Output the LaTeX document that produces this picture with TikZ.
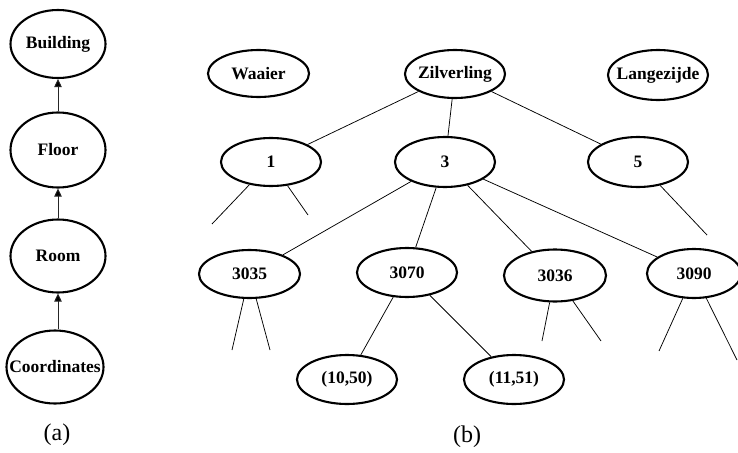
\documentclass[tikz,border=0pt]{standalone}
\usepackage{fontspec}
\setmainfont{Liberation Serif}
\usetikzlibrary{shapes.geometric,arrows.meta}

% label of zero width, so that the oval keeps its given size
\newcommand\ovl[1]{\makebox[0pt]{#1}}

\tikzset{
  oval/.style={ellipse, draw=black, line width=2.1pt, inner sep=0pt,
    font=\fontsize{17.5}{20}\selectfont\bfseries},
  edge/.style={draw=black, line width=0.75pt},
  uparrow/.style={draw=black!85, line width=0.9pt,
    -{Triangle[length=8pt,width=7.5pt,fill=black]}},
  caption/.style={font=\fontsize{24}{28}\selectfont}
}

\begin{document}
\begin{tikzpicture}[x=1pt, y=-1pt]
\useasboundingbox (0,0) rectangle (738,452);

% (a) hierarchy of levels
\node[oval, minimum width=95pt, minimum height=68pt] (B) at (58,44) {\ovl{Building}};
\node[oval, minimum width=95pt, minimum height=75pt] (F) at (58,150) {\ovl{Floor}};
\node[oval, minimum width=95pt, minimum height=73pt] (R) at (58,256) {\ovl{Room}};
\node[oval, minimum width=97pt, minimum height=73pt] (C) at (55,367) {\ovl{Coordinates}};
\draw[uparrow] (F.north) -- (B.south);
\draw[uparrow] (R.north) -- (F.south);
\draw[uparrow] (C.north -| R.south) -- (R.south);
\node[caption] (capa) at (57,435) {(a)};

% (b) buildings
\node[oval, minimum width=101pt, minimum height=47pt] (W) at (258.5,73.5) {\ovl{Waaier}};
\node[oval, minimum width=100pt, minimum height=48pt] (Z) at (455,74) {\ovl{Zilverling}};
\node[oval, minimum width=100pt, minimum height=50pt] (L) at (658,75) {\ovl{Langezijde}};

% floors
\node[oval, minimum width=100pt, minimum height=48pt] (f1) at (271,162) {\ovl{1}};
\node[oval, minimum width=100pt, minimum height=50pt] (f3) at (445,162) {\ovl{3}};
\node[oval, minimum width=100pt, minimum height=50pt] (f5) at (638,162) {\ovl{5}};

% rooms
\node[oval, minimum width=101pt, minimum height=48pt] (r35) at (249.5,274) {\ovl{3035}};
\node[oval, minimum width=100pt, minimum height=49pt] (r70) at (407,272.5) {\ovl{3070}};
\node[oval, minimum width=102pt, minimum height=52pt] (r36) at (555,275.5) {\ovl{3036}};
\node[oval, minimum width=94pt, minimum height=49pt] (r90) at (694,273.5) {\ovl{3090}};

% coordinates
\node[oval, minimum width=100pt, minimum height=49pt] (p1) at (347,379.5) {\ovl{(10,50)}};
\node[oval, minimum width=100pt, minimum height=49pt] (p2) at (514,379.5) {\ovl{(11,51)}};

% open ends of the branches
\coordinate (d1a) at (212,224);
\coordinate (d1b) at (308,215);
\coordinate (d5) at (707,235);
\coordinate (d35a) at (232,350);
\coordinate (d35b) at (270,350);
\coordinate (d36a) at (542,341);
\coordinate (d36b) at (601,341);
\coordinate (d90a) at (659,351);
\coordinate (d90b) at (737,360);

\draw[edge] (Z) -- (f1);
\draw[edge] (Z) -- (f3);
\draw[edge] (Z) -- (f5);
\draw[edge] (f1) -- (d1a);
\draw[edge] (f1) -- (d1b);
\draw[edge] (f5) -- (d5);
\draw[edge] (f3) -- (r35);
\draw[edge] (f3) -- (r70);
\draw[edge] (f3) -- (r36);
\draw[edge] (f3) -- (r90);
\draw[edge] (r35) -- (d35a);
\draw[edge] (r35) -- (d35b);
\draw[edge] (r70) -- (p1);
\draw[edge] (r70) -- (p2);
\draw[edge] (r36) -- (d36a);
\draw[edge] (r36) -- (d36b);
\draw[edge] (r90) -- (d90a);
\draw[edge] (r90) -- (d90b);

\node[caption] (capb) at (467,437) {(b)};
\end{tikzpicture}
\end{document}
